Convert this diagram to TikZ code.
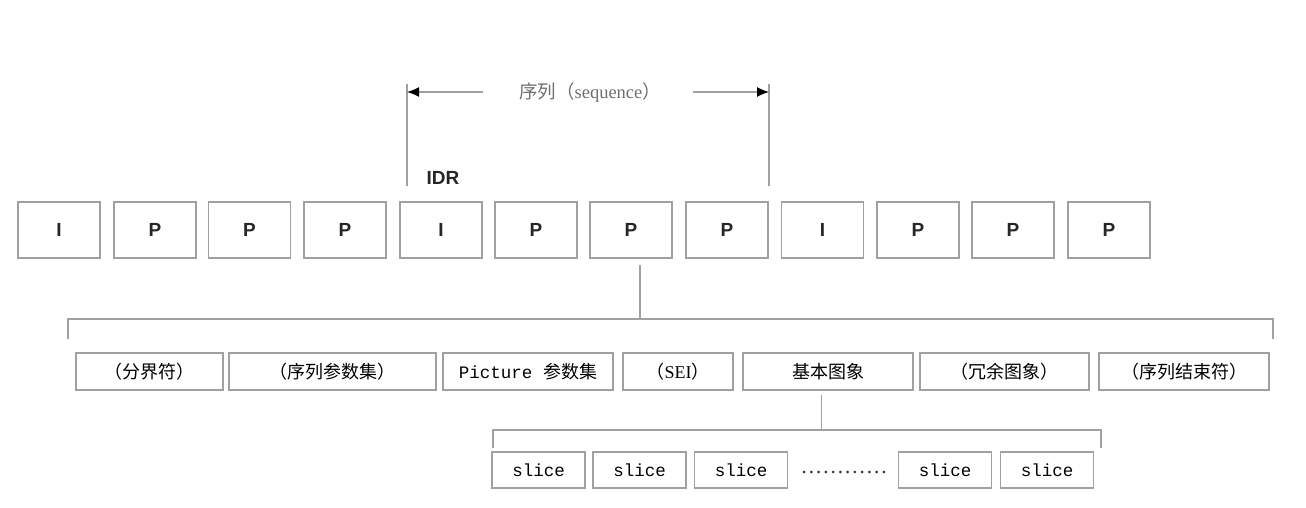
\documentclass[tikz,border=0pt]{standalone}
\usepackage{fontspec}
\setmainfont{Liberation Serif}
\setsansfont{Liberation Sans}
\setmonofont{Liberation Mono}
\newfontfamily\cjk{Noto Sans CJK SC}
\usetikzlibrary{arrows.meta,calc}
\definecolor{linegray}{RGB}{160,160,160}
\definecolor{labelgray}{RGB}{110,110,110}
\begin{document}
\begin{tikzpicture}[x=1pt,y=-1pt,
  frame/.style={draw=linegray,line width=1.3pt,inner sep=0pt,anchor=center},
  topbox/.style={frame,minimum width=82pt,minimum height=56pt,font=\sffamily\bfseries\fontsize{19}{19}\selectfont,text=black!85},
  rowbox/.style={frame,minimum height=37pt,font=\cjk\fontsize{18}{18}\selectfont},
  slicebox/.style={frame,minimum width=93pt,minimum height=36pt,font=\ttfamily\fontsize{17.5}{18}\selectfont},
  conn/.style={draw=linegray,line width=1.3pt},
  arr/.style={conn,-{Latex[length=12pt,width=10pt,black]}}]
\useasboundingbox (0,0) rectangle (1306,508);
% top row
\foreach \n/\x/\t in {1/59/I,2/155/P,3/249.5/P,4/345/P,5/441/I,6/536/P,7/631/P,8/727/P,9/822.5/I,10/918/P,11/1013/P,12/1109/P}
  \node[topbox] (p\n) at (\x,230) {\t};
\node[font=\sffamily\bfseries\fontsize{19}{19}\selectfont,text=black!85] (idr) at (443,178) {IDR};
% sequence marker
\coordinate (sl) at (407,84);
\coordinate (slb) at (407,186);
\coordinate (sr) at (769,84);
\coordinate (srb) at (769,186);
\node[text=labelgray,font=\fontsize{18.5}{19}\selectfont] (seq) at (590,93) {{\cjk 序列（}sequence{\cjk ）}};
\coordinate (al0) at (483,92);
\coordinate (al1) at (407,92);
\coordinate (ar0) at (693,92);
\coordinate (ar1) at (769,92);
\draw[conn] (sl) -- (slb);
\draw[conn] (sr) -- (srb);
\draw[arr] (al0) -- (al1);
\draw[arr] (ar0) -- (ar1);
% second row
\node[rowbox,minimum width=147pt] (a) at (149.5,371.5) {（分界符）};
\node[rowbox,minimum width=207pt] (b) at (332.5,371.5) {（序列参数集）};
\node[rowbox,minimum width=170pt] (c) at (528,371.5) {{\ttfamily\fontsize{17.5}{18}\selectfont Picture }参数集};
\node[rowbox,minimum width=110pt] (d) at (678,371.5) {（{\rmfamily\fontsize{18}{18}\selectfont SEI}）};
\node[rowbox,minimum width=170pt] (e) at (828,371.5) {基本图象};
\node[rowbox,minimum width=169pt] (f) at (1004.5,371.5) {（冗余图象）};
\node[rowbox,minimum width=170pt] (g) at (1184,371.5) {（序列结束符）};
% bracket 1
\coordinate (t1) at (640,265);
\coordinate (t2) at (640,319);
\coordinate (bl) at (68,319);
\coordinate (blb) at (68,339);
\coordinate (br) at (1273,319);
\coordinate (brb) at (1273,339);
\draw[conn] (t1) -- (t2);
\draw[conn] (blb) -- (bl) -- (br) -- (brb);
% slices
\node[slicebox] (s1) at (538.5,470) {slice};
\node[slicebox] (s2) at (639.5,470) {slice};
\node[slicebox] (s3) at (741,470) {slice};
\node[slicebox] (s4) at (945,470) {slice};
\node[slicebox] (s5) at (1047,470) {slice};
\foreach \i in {0,...,11}
  \fill[black!80] (804+\i*7.27,472) circle (1.5pt);
% bracket 2
\coordinate (u1) at (821.5,395);
\coordinate (u2) at (821.5,430);
\coordinate (cl) at (493,430);
\coordinate (clb) at (493,448);
\coordinate (cr) at (1101,430);
\coordinate (crb) at (1101,448);
\draw[conn] (u1) -- (u2);
\draw[conn] (clb) -- (cl) -- (cr) -- (crb);
\end{tikzpicture}
\end{document}
